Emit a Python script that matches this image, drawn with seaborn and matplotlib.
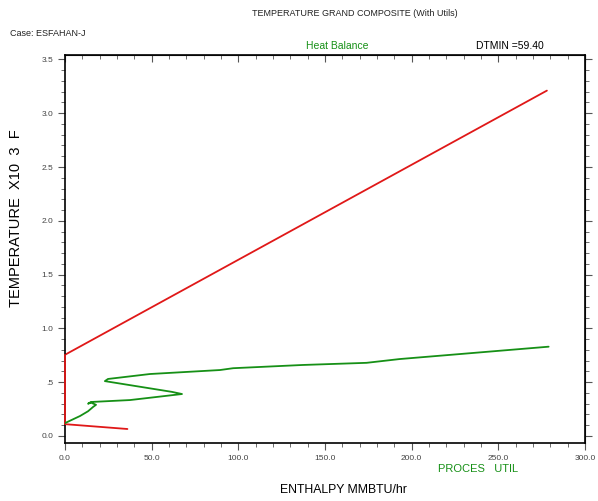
import matplotlib
matplotlib.use("Agg")
import matplotlib.pyplot as plt
import numpy as np
import pandas as pd
import seaborn as sns
from matplotlib.ticker import MultipleLocator, FixedFormatter, FixedLocator

# utility (red) lines
hot_x = [0.0, 278.0]
hot_y = [0.755, 3.21]
cold_x = [0.0, 0.0, 36.0]
cold_y = [0.755, 0.11, 0.065]

# process grand composite (green)
gcc_x = [0.0, 8.7, 13.3, 16.2, 17.9, 15.0, 13.3, 15.0, 37.5, 67.5, 61.7, 23.0, 24.8,
         49.0, 89.4, 97.0, 137.0, 174.0, 193.0, 279.0]
gcc_y = [0.12, 0.186, 0.23, 0.27, 0.29, 0.31, 0.30, 0.316, 0.334, 0.39, 0.41, 0.51, 0.53,
         0.576, 0.613, 0.63, 0.66, 0.68, 0.715, 0.83]

y_ticks = [0.0, 0.5, 1.0, 1.5, 2.0, 2.5, 3.0, 3.5]
y_labels = ['0.0', '.5', '1.0', '1.5', '2.0', '2.5', '3.0', '3.5']
x_ticks = [0, 50, 100, 150, 200, 250, 300]
x_labels = ['0.0', '50.0', '100.0', '150.0', '200.0', '250.0', '300.0']

sns.set_style("white")
plt.rcParams['font.family'] = ['Liberation Sans', 'DejaVu Sans']

fig = plt.figure(figsize=(5.98, 5.01), dpi=100)
ax = fig.add_axes([0.1087, 0.1158, 0.8696, 0.7742])

red = '#e01818'
green = '#169016'
sns.lineplot(x=hot_x, y=hot_y, sort=False, estimator=None, color=red, lw=1.3, ax=ax)
sns.lineplot(x=cold_x, y=cold_y, sort=False, estimator=None, color=red, lw=1.3, ax=ax,
             clip_on=False, zorder=5)
sns.lineplot(x=gcc_x, y=gcc_y, sort=False, estimator=None, color=green, lw=1.3, ax=ax,
             zorder=6)

ax.set_xlim(0, 300)
ax.set_ylim(-0.065, 3.54)
ax.xaxis.set_major_locator(FixedLocator(x_ticks))
ax.xaxis.set_major_formatter(FixedFormatter(x_labels))
ax.yaxis.set_major_locator(FixedLocator(y_ticks))
ax.yaxis.set_major_formatter(FixedFormatter(y_labels))
ax.xaxis.set_minor_locator(MultipleLocator(10))
ax.yaxis.set_minor_locator(MultipleLocator(0.1))
ax.tick_params(which='both', direction='out', labelsize=6, labelcolor='#444444',
               color='#555555', bottom=True, left=True)
ax.tick_params(which='major', length=5, width=0.8)
ax.tick_params(which='minor', length=3, width=0.6)
for s in ax.spines.values():
    s.set_color('black')
    s.set_linewidth(1.2)

top = ax.secondary_xaxis('top')
top.xaxis.set_major_locator(FixedLocator(x_ticks))
top.xaxis.set_minor_locator(MultipleLocator(10))
top.tick_params(which='both', direction='in', labeltop=False, color='#555555')
top.tick_params(which='major', length=5)
top.tick_params(which='minor', length=3)
right = ax.secondary_yaxis('right')
right.yaxis.set_major_locator(FixedLocator(y_ticks))
right.yaxis.set_minor_locator(MultipleLocator(0.1))
right.tick_params(which='both', direction='out', labelright=False, color='#555555')
right.tick_params(which='major', length=5)
right.tick_params(which='minor', length=3)

ax.set_xlabel('')
ax.set_ylabel('')
fig.text(355 / 598, 1 - 14 / 501, 'TEMPERATURE GRAND COMPOSITE (With Utils)',
         ha='center', va='center', fontsize=6.5, color='#222222')
fig.text(10 / 598, 1 - 33 / 501, 'Case: ESFAHAN-J', ha='left', va='center',
         fontsize=6.5, color='#222222')
fig.text(337 / 598, 1 - 46 / 501, 'Heat Balance', ha='center', va='center',
         fontsize=7.5, color=green)
fig.text(510 / 598, 1 - 46 / 501, 'DTMIN =59.40', ha='center', va='center',
         fontsize=7.5, color='black')
fig.text(16 / 598, 1 - 218 / 501, 'TEMPERATURE  X10  3  F',
         rotation=90, ha='center', va='center', fontsize=10.5, color='black')
fig.text(343 / 598, 1 - 490 / 501, 'ENTHALPY MMBTU/hr', ha='center', va='center',
         fontsize=8.8, color='black')
fig.text(478 / 598, 1 - 469 / 501, 'PROCES   UTIL', ha='center', va='center',
         fontsize=8, color=green)

fig.savefig('out.png', dpi=100)
